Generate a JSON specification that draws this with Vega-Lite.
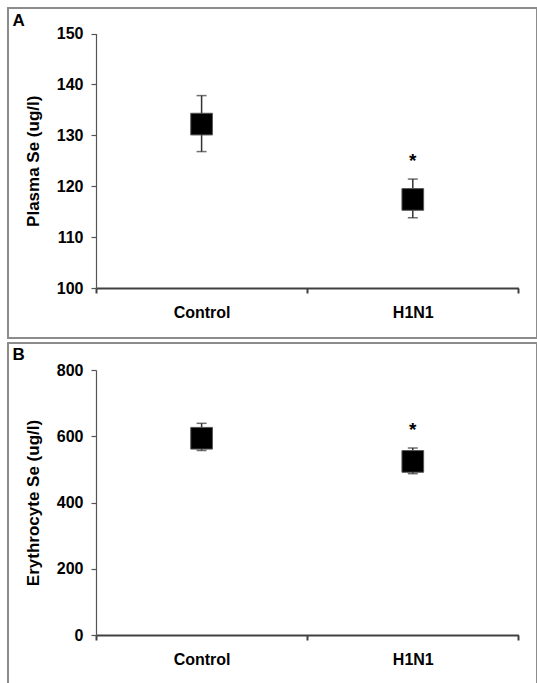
{
  "$schema": "https://vega.github.io/schema/vega-lite/v6.json",
  "autosize": {"type": "pad"},
  "padding": {"left": 7, "top": 7, "right": 0, "bottom": 0},
  "background": "white",
  "spacing": 5,
  "bounds": "flush",
  "config": {
    "view": {"stroke": "#8c8c8c", "strokeWidth": 2},
    "font": "Liberation Sans",
    "axis": {
      "labelFont": "Liberation Sans",
      "labelFontWeight": "bold",
      "labelColor": "black",
      "titleFont": "Liberation Sans",
      "titleFontWeight": "bold",
      "titleColor": "black",
      "grid": false
    }
  },
  "vconcat": [
    {
      "width": 529,
      "height": 330,
      "data": {
        "values": [
          {"group": "Control", "mean": 132.2, "lo": 126.8, "hi": 137.8, "sig": ""},
          {"group": "H1N1", "mean": 117.4, "lo": 113.8, "hi": 121.4, "sig": "*"}
        ]
      },
      "resolve": {"scale": {"x": "shared", "y": "shared"}, "axis": {"x": "independent"}},
      "layer": [
        {
          "mark": {"type": "rule", "color": "#333333", "strokeWidth": 1.5},
          "encoding": {
            "x": {
              "field": "group",
              "type": "nominal",
              "scale": {"type": "band", "domain": ["Control", "H1N1"], "range": [88, 510.4], "paddingInner": 0, "paddingOuter": 0},
              "axis": {"orient": "bottom", "offset": -50, "tickBand": "extent", "tickSize": 5, "labelPadding": 11, "labelFontSize": 16, "labelAngle": 0, "title": null, "domainColor": "#404040", "domainWidth": 2, "tickColor": "#404040", "tickWidth": 2}
            },
            "y": {
              "field": "lo",
              "type": "quantitative",
              "title": "Plasma Se (ug/l)",
              "scale": {"domain": [100, 150], "range": [280, 25.5], "nice": false, "zero": false},
              "axis": {"values": [100, 110, 120, 130, 140, 150], "offset": -88, "tickSize": 5, "labelPadding": 8, "labelFontSize": 16, "titleFontSize": 17, "titlePadding": 14, "domainColor": "#555555", "domainWidth": 1.2, "tickColor": "#555555", "tickWidth": 1.2}
            },
            "y2": {"field": "hi"}
          }
        },
        {
          "mark": {"type": "tick", "orient": "horizontal", "size": 10, "thickness": 1.5, "color": "#333333"},
          "encoding": {
            "x": {"field": "group", "type": "nominal", "axis": null},
            "y": {"field": "lo", "type": "quantitative", "title": "Plasma Se (ug/l)"}
          }
        },
        {
          "mark": {"type": "tick", "orient": "horizontal", "size": 10, "thickness": 1.5, "color": "#333333"},
          "encoding": {
            "x": {"field": "group", "type": "nominal", "axis": null},
            "y": {"field": "hi", "type": "quantitative", "title": "Plasma Se (ug/l)"}
          }
        },
        {
          "mark": {"type": "point", "shape": "square", "filled": true, "size": 470, "color": "black", "opacity": 1, "stroke": "#555555", "strokeWidth": 1},
          "encoding": {
            "x": {"field": "group", "type": "nominal", "axis": null},
            "y": {"field": "mean", "type": "quantitative", "title": "Plasma Se (ug/l)"}
          }
        },
        {
          "transform": [{"filter": "datum.sig == '*'"}],
          "mark": {"type": "text", "fontSize": 19, "fontWeight": "bold", "baseline": "alphabetic", "dy": -12, "color": "black", "font": "Liberation Sans"},
          "encoding": {
            "x": {
              "field": "group",
              "type": "nominal",
              "axis": {"orient": "top", "title": "A", "labels": false, "ticks": false, "domain": false, "titleX": 4, "titleY": 17, "titleAngle": 0, "titleAlign": "left", "titleBaseline": "alphabetic", "titleFontSize": 17, "titlePadding": 0}
            },
            "y": {"field": "hi", "type": "quantitative", "title": "Plasma Se (ug/l)"},
            "text": {"field": "sig"}
          }
        }
      ]
    },
    {
      "width": 529,
      "height": 345,
      "data": {
        "values": [
          {"group": "Control", "mean": 594, "lo": 557, "hi": 639, "sig": ""},
          {"group": "H1N1", "mean": 524, "lo": 487, "hi": 564.5, "sig": "*"}
        ]
      },
      "resolve": {"scale": {"x": "shared", "y": "shared"}, "axis": {"x": "independent"}},
      "layer": [
        {
          "mark": {"type": "rule", "color": "#333333", "strokeWidth": 1.5},
          "encoding": {
            "x": {
              "field": "group",
              "type": "nominal",
              "scale": {"type": "band", "domain": ["Control", "H1N1"], "range": [88, 510.4], "paddingInner": 0, "paddingOuter": 0},
              "axis": {"orient": "bottom", "offset": -53, "tickBand": "extent", "tickSize": 5, "labelPadding": 11, "labelFontSize": 16, "labelAngle": 0, "title": null, "domainColor": "#404040", "domainWidth": 2, "tickColor": "#404040", "tickWidth": 2}
            },
            "y": {
              "field": "lo",
              "type": "quantitative",
              "title": "Erythrocyte Se (ug/l)",
              "scale": {"domain": [0, 800], "range": [292, 27], "nice": false, "zero": false},
              "axis": {"values": [0, 200, 400, 600, 800], "offset": -88, "tickSize": 5, "labelPadding": 8, "labelFontSize": 16, "titleFontSize": 17, "titlePadding": 14, "domainColor": "#555555", "domainWidth": 1.2, "tickColor": "#555555", "tickWidth": 1.2}
            },
            "y2": {"field": "hi"}
          }
        },
        {
          "mark": {"type": "tick", "orient": "horizontal", "size": 10, "thickness": 1.5, "color": "#333333"},
          "encoding": {
            "x": {"field": "group", "type": "nominal", "axis": null},
            "y": {"field": "lo", "type": "quantitative", "title": "Erythrocyte Se (ug/l)"}
          }
        },
        {
          "mark": {"type": "tick", "orient": "horizontal", "size": 10, "thickness": 1.5, "color": "#333333"},
          "encoding": {
            "x": {"field": "group", "type": "nominal", "axis": null},
            "y": {"field": "hi", "type": "quantitative", "title": "Erythrocyte Se (ug/l)"}
          }
        },
        {
          "mark": {"type": "point", "shape": "square", "filled": true, "size": 470, "color": "black", "opacity": 1, "stroke": "#555555", "strokeWidth": 1},
          "encoding": {
            "x": {"field": "group", "type": "nominal", "axis": null},
            "y": {"field": "mean", "type": "quantitative", "title": "Erythrocyte Se (ug/l)"}
          }
        },
        {
          "transform": [{"filter": "datum.sig == '*'"}],
          "mark": {"type": "text", "fontSize": 19, "fontWeight": "bold", "baseline": "alphabetic", "dy": -12, "color": "black", "font": "Liberation Sans"},
          "encoding": {
            "x": {
              "field": "group",
              "type": "nominal",
              "axis": {"orient": "top", "title": "B", "labels": false, "ticks": false, "domain": false, "titleX": 4, "titleY": 16, "titleAngle": 0, "titleAlign": "left", "titleBaseline": "alphabetic", "titleFontSize": 17, "titlePadding": 0}
            },
            "y": {"field": "hi", "type": "quantitative", "title": "Erythrocyte Se (ug/l)"},
            "text": {"field": "sig"}
          }
        }
      ]
    }
  ]
}
